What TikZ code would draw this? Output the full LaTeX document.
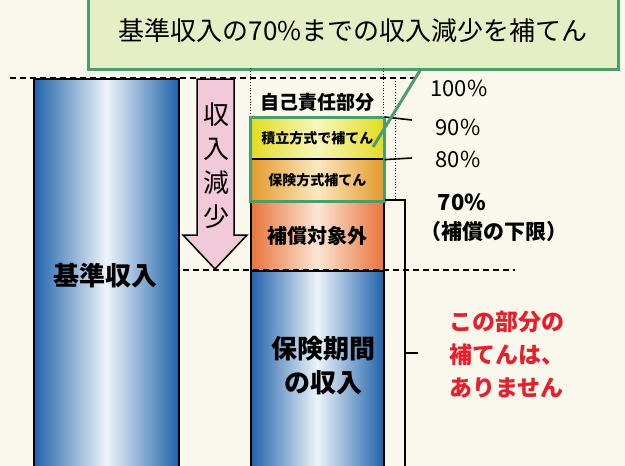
\documentclass[tikz,border=0pt]{standalone}
\usepackage{fontspec}
\setmainfont{Noto Sans CJK JP}
\definecolor{bg}{HTML}{FAF8EC}
\definecolor{callfill}{HTML}{E6EEC6}
\definecolor{grn}{HTML}{4E9B6E}
\definecolor{blueE}{HTML}{2062AA}
\definecolor{blueM}{HTML}{EEF4FA}
\definecolor{orE}{HTML}{E8743A}
\definecolor{orC}{HTML}{FBE5D6}
\definecolor{yeE}{HTML}{E2DC1E}
\definecolor{yeC}{HTML}{F8F6C0}
\definecolor{amE}{HTML}{E49A2A}
\definecolor{amC}{HTML}{FBE9C0}
\definecolor{pinkA}{HTML}{F2C9D9}
\definecolor{redT}{HTML}{E5202E}
\begin{document}
\begin{tikzpicture}[x=1pt,y=-1pt,
  colbox/.style={draw=black, line width=1.6pt, anchor=north west, inner sep=0pt},
  blueshade/.style={left color=blueE, right color=blueE, middle color=blueM},
  dash line/.style={line width=1.2pt, dash pattern=on 6pt off 4pt},
  dot line/.style={line width=0.8pt, dotted},
  lbl/.style={inner sep=0pt},
  pct/.style={inner sep=0pt, font=\fontsize{22}{22}\selectfont}]
\useasboundingbox (0,0) rectangle (625,466);
\clip (0,0) rectangle (625,466);
\fill[bg] (0,0) rectangle (625,466);

% callout
\node[fill=callfill, draw=grn, line width=2.5pt, minimum width=530pt, minimum height=72pt, anchor=north west, inner sep=0pt] (call) at (87,-4) {};
\node[lbl, font=\fontsize{26}{26}\selectfont] (calltext) at (353,31) {基準収入の70\%までの収入減少を補てん};

% guide lines
\coordinate (d1a) at (10,78); \coordinate (d1b) at (420,78);
\draw[dash line] (d1a) -- (d1b);

% left column
\node[colbox, blueshade, minimum width=145pt, minimum height=400pt] (base) at (33,78) {};
\node[lbl, font=\fontsize{26}{26}\selectfont\bfseries] (basetext) at (105,276) {基準収入};

% arrow
\draw[fill=pinkA, line width=1.5pt, line join=miter] (197,79) -- (234,79) -- (234,235) -- (247,235) -- (215,269) -- (183,235) -- (197,235) -- cycle;
\node[lbl, align=center, font=\fontsize{26}{34}\selectfont] (arrtext) at (216,166) {収\\入\\減\\少};

% dotted verticals
\coordinate (v1a) at (250,68); \coordinate (v1b) at (250,117);
\coordinate (v2a) at (383,68); \coordinate (v2b) at (383,200);
\coordinate (v3a) at (395,78); \coordinate (v3b) at (395,200);
\draw[dot line] (v1a) -- (v1b);
\draw[dot line] (v2a) -- (v2b);
\draw[dot line] (v3a) -- (v3b);

% right stack
\node[lbl, font=\fontsize{19}{19}\selectfont\bfseries] (jiko) at (317,102) {自己責任部分};
\node[colbox, left color=yeE, right color=yeE, middle color=yeC, minimum width=133pt, minimum height=41pt] (tsumi) at (250,117) {};
\node[colbox, left color=amE, right color=amE, middle color=amC, minimum width=133pt, minimum height=42pt] (hoken) at (250,158) {};
\node[colbox, left color=orE, right color=orE, middle color=orC, minimum width=133pt, minimum height=70pt] (taisho) at (250,200) {};
\node[colbox, blueshade, minimum width=133pt, minimum height=200pt] (kikan) at (250,270) {};
\draw[grn, line width=3pt] (tsumi.north west) rectangle (hoken.south east);
\node[lbl, font=\fontsize{14}{14}\selectfont\bfseries] at (tsumi.center) {積立方式で補てん};
\node[lbl, font=\fontsize{14}{14}\selectfont\bfseries] at (hoken.center) {保険方式補てん};
\node[lbl, font=\fontsize{20}{20}\selectfont\bfseries] at (taisho.center) {補償対象外};
\node[lbl, align=center, font=\fontsize{26}{34}\selectfont\bfseries] (kikantext) at (323,366) {保険期間\\の収入};

% lower dashed line
\coordinate (d2a) at (183,270); \coordinate (d2b) at (515,270);
\draw[dash line] (d2a) -- (d2b);

% ticks
\coordinate (t90) at (412,120); \coordinate (t80) at (412,158);
\draw[line width=1.6pt] (tsumi.north east) -- (t90);
\draw[line width=1.6pt] (tsumi.south east) -- (t80);

% bracket
\coordinate (b1) at (405,200); \coordinate (b2) at (405,470);
\coordinate (bm) at (405,353); \coordinate (bt) at (418,353);
\draw[line width=1.6pt] (taisho.north east) -- (b1) -- (b2);
\draw[line width=1.6pt] (bm) -- (bt);

% percent labels
\node[pct] (p100) at (459,88) {100\%};
\node[pct] (p90) at (458,127) {90\%};
\node[pct] (p80) at (458,159) {80\%};
\node[pct, font=\fontsize{22}{22}\selectfont\bfseries] (p70) at (462,202) {70\%};
\node[lbl, font=\fontsize{21}{21}\selectfont\bfseries] (kagen) at (494,232) {（補償の下限）};

% red note
\node[lbl, anchor=west, align=left, text=redT, font=\fontsize{23}{33}\selectfont\bfseries] (note) at (449,355) {この部分の\\補てんは、\\ありません};

% callout pointer
\coordinate (ptr) at (373,147);
\draw[grn, line width=3pt] (ptr) -- (call.south -| 420,0);
\end{tikzpicture}
\end{document}
